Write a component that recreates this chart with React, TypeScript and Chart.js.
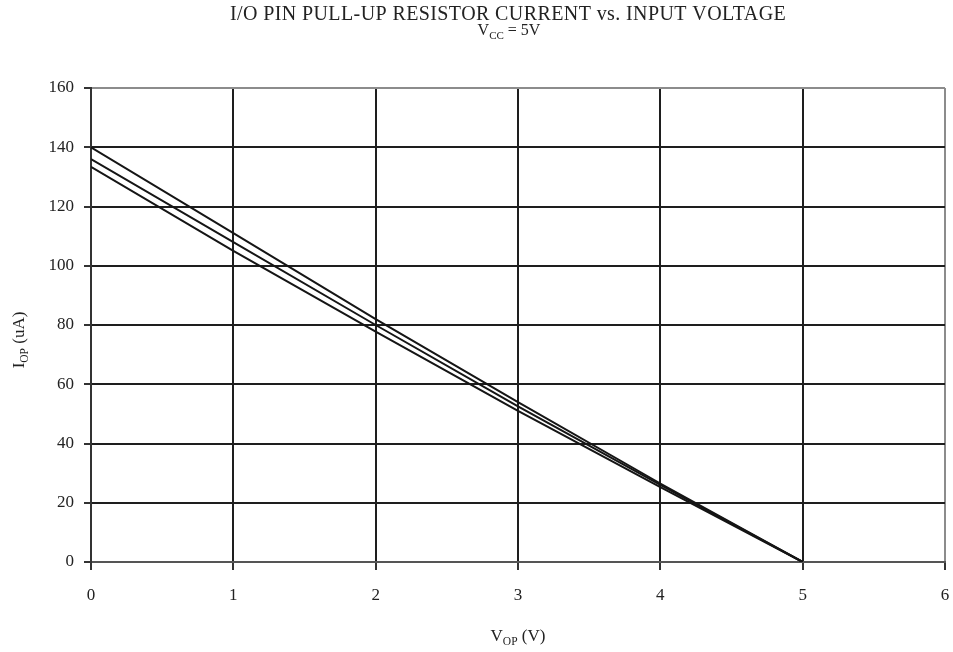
import React, { useEffect, useRef } from "react";
import { Chart, registerables } from "chart.js";

Chart.register(...registerables);

const xValues = [0, 1, 2, 3, 4, 5];
const seriesTop = [140, 111, 82, 54, 26.5, 0];
const seriesMid = [136, 108, 80, 52.5, 26, 0];
const seriesLow = [133.4, 105, 77.8, 51, 25.3, 0];
const xTicks = [0, 1, 2, 3, 4, 5, 6];
const yTicks = [0, 20, 40, 60, 80, 100, 120, 140, 160];

const titleText = "I/O PIN PULL-UP RESISTOR CURRENT vs. INPUT VOLTAGE";
const subtitleParts = [
  { t: "V", sub: false },
  { t: "CC", sub: true },
  { t: " = 5V", sub: false },
];
const xTitleParts = [
  { t: "V", sub: false },
  { t: "OP", sub: true },
  { t: " (V)", sub: false },
];
const yTitleParts = [
  { t: "I", sub: false },
  { t: "OP", sub: true },
  { t: " (uA)", sub: false },
];

const FONT = '"Liberation Serif", "Times New Roman", serif';

type Part = { t: string; sub: boolean };

function drawRich(
  ctx: CanvasRenderingContext2D,
  parts: Part[],
  cx: number,
  baseline: number,
  size: number,
  subSize: number
) {
  const widths = parts.map((p) => {
    ctx.font = `${p.sub ? subSize : size}px ${FONT}`;
    return ctx.measureText(p.t).width;
  });
  const total = widths.reduce((a, b) => a + b, 0);
  let x = cx - total / 2;
  ctx.textAlign = "left";
  ctx.textBaseline = "alphabetic";
  parts.forEach((p, i) => {
    ctx.font = `${p.sub ? subSize : size}px ${FONT}`;
    ctx.fillText(p.t, x, baseline + (p.sub ? size * 0.22 : 0));
    x += widths[i];
  });
}

const textPlugin = {
  id: "customText",
  afterDraw(chart: any) {
    const ctx: CanvasRenderingContext2D = chart.ctx;
    const area = chart.chartArea;
    ctx.save();
    ctx.fillStyle = "#222";
    ctx.font = `20px ${FONT}`;
    (ctx as any).letterSpacing = "0.4px";
    ctx.textAlign = "center";
    ctx.textBaseline = "alphabetic";
    ctx.fillText(titleText, 508, 20);
    (ctx as any).letterSpacing = "0px";
    drawRich(ctx, subtitleParts, 509, 35, 16, 11);
    drawRich(ctx, xTitleParts, (area.left + area.right) / 2, 641, 17, 11.5);
    ctx.translate(24, 340);
    ctx.rotate(-Math.PI / 2);
    drawRich(ctx, yTitleParts, 0, 0, 17, 11.5);
    ctx.restore();
  },
};

export default function App() {
  const ref = useRef<HTMLCanvasElement | null>(null);

  useEffect(() => {
    document.body.style.margin = "0";
    const canvas = ref.current;
    if (!canvas) return;
    const mk = (vals: number[]) => xValues.map((x, i) => ({ x, y: vals[i] }));
    const ds = (label: string, vals: number[]) => ({
      label,
      data: mk(vals),
      borderColor: "#151515",
      borderWidth: 2,
      pointRadius: 0,
      tension: 0,
      fill: false,
    });
    const chart = new Chart(canvas, {
      type: "line",
      data: {
        datasets: [ds("a", seriesTop), ds("b", seriesMid), ds("c", seriesLow)],
      },
      plugins: [textPlugin],
      options: {
        responsive: false,
        animation: false,
        layout: { padding: { top: 88, right: 8, left: 0, bottom: 0 } },
        plugins: {
          legend: { display: false },
          title: { display: false },
          tooltip: { enabled: false },
        },
        scales: {
          x: {
            type: "linear",
            min: 0,
            max: 6,
            afterBuildTicks: (axis: any) => {
              axis.ticks = xTicks.map((v) => ({ value: v }));
            },
            afterFit: (axis: any) => {
              axis.height = 90;
              axis.paddingLeft = 0;
              axis.paddingRight = 0;
            },
            border: { display: true, color: "#555", width: 2 },
            grid: {
              lineWidth: 2,
              color: (c: any) =>
                c.tick && c.tick.value === 6 ? "#8c8c8c" : "#1e1e1e",
              tickColor: "#333",
              tickLength: 8,
              drawTicks: true,
            },
            ticks: {
              padding: 15,
              color: "#222",
              font: { family: FONT, size: 17 },
              maxRotation: 0,
            },
          },
          y: {
            type: "linear",
            min: 0,
            max: 160,
            afterBuildTicks: (axis: any) => {
              axis.ticks = yTicks.map((v) => ({ value: v }));
            },
            afterFit: (axis: any) => {
              axis.width = 91;
              axis.paddingTop = 0;
              axis.paddingBottom = 0;
            },
            border: { display: true, color: "#333", width: 2 },
            grid: {
              lineWidth: 2,
              color: (c: any) =>
                c.tick && c.tick.value === 160
                  ? "#8c8c8c"
                  : c.tick && c.tick.value === 0
                  ? "#555"
                  : "#1e1e1e",
              tickColor: "#333",
              tickLength: 7,
            },
            ticks: {
              padding: 10,
              color: "#222",
              font: { family: FONT, size: 17 },
            },
          },
        },
      } as any,
    });
    return () => chart.destroy();
  }, []);

  return (
    <div style={{ width: 953, height: 652 }}>
      <canvas ref={ref} width={953} height={652} style={{ display: "block" }} />
    </div>
  );
}
